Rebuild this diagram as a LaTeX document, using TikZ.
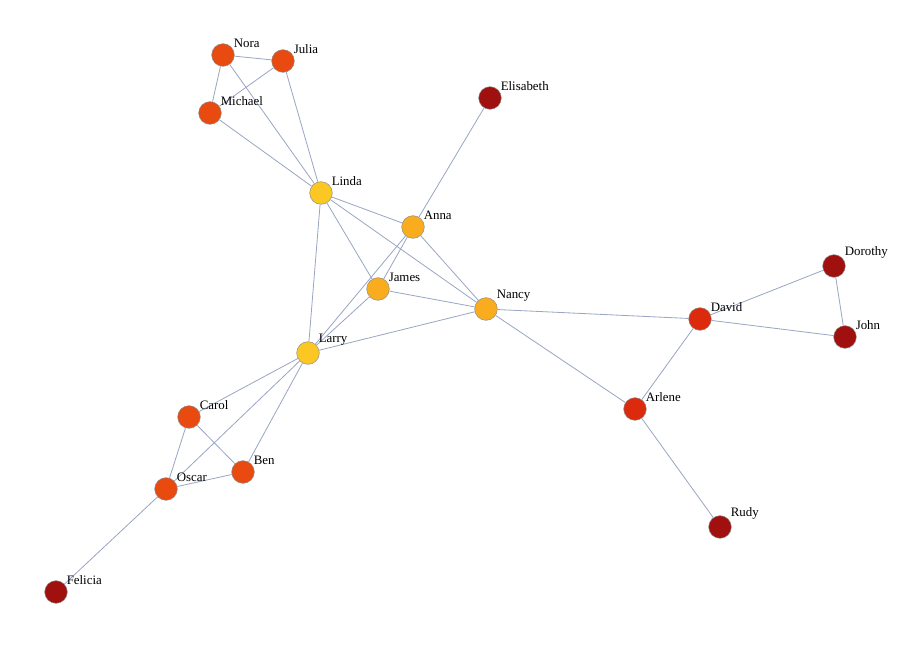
\documentclass[tikz,border=0pt]{standalone}
\usepackage{fontspec}
\setmainfont{Liberation Serif}
\definecolor{cyel}{HTML}{FBC723}
\definecolor{corg}{HTML}{F9AC1E}
\definecolor{cred}{HTML}{E84A10}
\definecolor{cdred}{HTML}{DC2A0C}
\definecolor{cbrn}{HTML}{A0100E}
\definecolor{cedge}{HTML}{9AA6C4}
\tikzset{
  person/.style={circle, draw=black!45, minimum size=0.68cm, inner sep=0pt},
  tie/.style={cedge, line width=0.7pt},
  lbl/.style={font=\fontsize{11pt}{12pt}\selectfont, anchor=south west, inner sep=1pt}
}
\begin{document}
\begin{tikzpicture}[x=0.03cm, y=-0.03cm]
\useasboundingbox (0,0) rectangle (900,646);
% people
\foreach \name/\x/\y/\c in {Nora/223/55/cred, Julia/283/61/cred, Michael/210/113/cred,
  Elisabeth/490/98/cbrn, Linda/321/193/cyel, Anna/413/227/corg, James/378/289/corg,
  Nancy/486/309/corg, Larry/308/353/cyel, David/700/319/cdred, Dorothy/834/266/cbrn,
  John/845/337/cbrn, Arlene/635/409/cdred, Rudy/720/527/cbrn, Carol/189/417/cred,
  Ben/243/472/cred, Oscar/166/489/cred, Felicia/56/592/cbrn}
  \node[person, fill=\c] (\name) at (\x,\y) {};
% ties
\begin{scope}[on background layer/.style={}]
\foreach \a/\b in {Nora/Julia, Nora/Michael, Nora/Linda, Julia/Michael, Julia/Linda,
  Michael/Linda, Elisabeth/Anna, Linda/Anna, Linda/James, Linda/Nancy, Linda/Larry,
  Anna/Nancy, Anna/Larry, Anna/James, James/Nancy, James/Larry, Larry/Nancy,
  Nancy/David, Nancy/Arlene, David/Arlene, David/Dorothy, David/John, Dorothy/John,
  Arlene/Rudy, Larry/Carol, Larry/Oscar, Larry/Ben, Carol/Ben, Carol/Oscar,
  Oscar/Ben, Oscar/Felicia}
  \draw[tie] (\a) -- (\b);
\end{scope}
% labels
\foreach \name in {Nora, Julia, Michael, Elisabeth, Linda, Anna, James, Nancy, Larry,
  David, Dorothy, John, Arlene, Rudy, Carol, Ben, Oscar, Felicia}
  \node[lbl] (\name-l) at ([xshift=1pt,yshift=-2pt]\name.north east) {\name};
\end{tikzpicture}
\end{document}
